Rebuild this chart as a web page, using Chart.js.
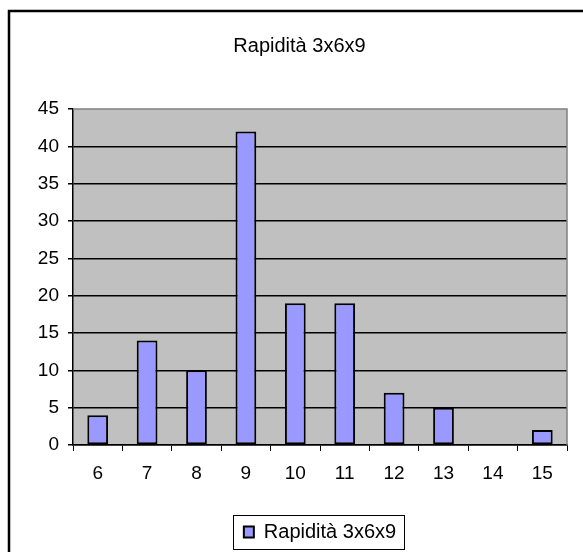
<!DOCTYPE html>
<html>
<head>
<meta charset="utf-8">
<script src="https://cdn.jsdelivr.net/npm/chart.js@4"></script>
<style>
  html, body { margin: 0; padding: 0; background: #fff; }
  #wrap { width: 583px; height: 552px; }
</style>
</head>
<body>
<div id="wrap"><canvas id="myChart" width="583" height="552"></canvas></div>
<script>
// data
var categories = ["6", "7", "8", "9", "10", "11", "12", "13", "14", "15"];
var values = [4, 14, 10, 42, 19, 19, 7, 5, 0, 2];
var seriesName = "Rapidità 3x6x9";
var chartTitle = "Rapidità 3x6x9";
var yTicks = [0, 5, 10, 15, 20, 25, 30, 35, 40, 45];

Chart.defaults.font.family = "'Liberation Sans', Arial, sans-serif";
Chart.defaults.color = "#000";

// grey plot area, grey top/right edge, frame and legend box
var excelLook = {
  id: "excelLook",
  beforeDraw: function (chart) {
    var a = chart.chartArea, ctx = chart.ctx;
    ctx.save();
    ctx.fillStyle = "#ffffff";
    ctx.fillRect(0, 0, chart.width, chart.height);
    ctx.fillStyle = "#c0c0c0";
    ctx.fillRect(a.left, a.top, a.right - a.left, a.bottom - a.top);
    ctx.restore();
  },
  afterDraw: function (chart) {
    var a = chart.chartArea, ctx = chart.ctx;
    ctx.save();
    ctx.strokeStyle = "#808080";
    ctx.lineWidth = 1.5;
    ctx.beginPath();
    ctx.moveTo(a.left, a.top);
    ctx.lineTo(a.right, a.top);
    ctx.lineTo(a.right, a.bottom);
    ctx.stroke();

    // outer frame (only top and left visible)
    ctx.strokeStyle = "#000";
    ctx.lineWidth = 2.5;
    ctx.beginPath();
    ctx.moveTo(9, chart.height + 5);
    ctx.lineTo(9, 11);
    ctx.lineTo(chart.width + 5, 11);
    ctx.stroke();

    // box round legend
    var hb = chart.legend.legendHitBoxes[0];
    if (hb) {
      ctx.lineWidth = 1;
      ctx.strokeRect(Math.round(hb.left) - 10.5, Math.round(hb.top) - 6.5, Math.round(hb.width) + 19, Math.round(hb.height) + 14);
    }
    ctx.restore();
  }
};

new Chart("myChart", {
  type: "bar",
  data: {
    labels: categories,
    datasets: [{
      label: seriesName,
      data: values,
      backgroundColor: "#9999ff",
      borderColor: "#000",
      borderWidth: 2,
      borderSkipped: false,
      barPercentage: 0.42,
      categoryPercentage: 1
    }]
  },
  options: {
    responsive: false,
    animation: false,
    layout: { padding: { left: 32, right: 16, top: 0, bottom: 0 } },
    plugins: {
      title: {
        display: true,
        text: chartTitle,
        font: { size: 20, weight: "normal" },
        color: "#000",
        padding: { top: 34, bottom: 51 }
      },
      legend: {
        position: "bottom",
        fullSize: false,
        labels: {
          boxWidth: 10,
          boxHeight: 11,
          padding: 10,
          color: "#000",
          font: { size: 20 }
        }
      },
      tooltip: { enabled: false }
    },
    scales: {
      x: {
        afterFit: function (s) { s.height = 67; },
        grid: {
          drawOnChartArea: false,
          drawTicks: true,
          tickLength: 6,
          tickColor: "#000",
          offset: true
        },
        border: { color: "#000", width: 1.5 },
        ticks: { font: { size: 19 }, color: "#000", padding: 11 }
      },
      y: {
        min: 0,
        max: 45,
        afterFit: function (s) { s.width = 41; },
        afterBuildTicks: function (s) {
          s.ticks = yTicks.map(function (v) { return { value: v }; });
        },
        grid: {
          color: function (c) { return c.tick && c.tick.value === 45 ? "rgba(0,0,0,0)" : "#000"; },
          lineWidth: 1.5,
          tickLength: 5,
          tickColor: "#000"
        },
        border: { color: "#000", width: 1.5 },
        ticks: { font: { size: 19 }, color: "#000", padding: 9, stepSize: 5 }
      }
    }
  },
  plugins: [excelLook]
});
</script>
</body>
</html>
